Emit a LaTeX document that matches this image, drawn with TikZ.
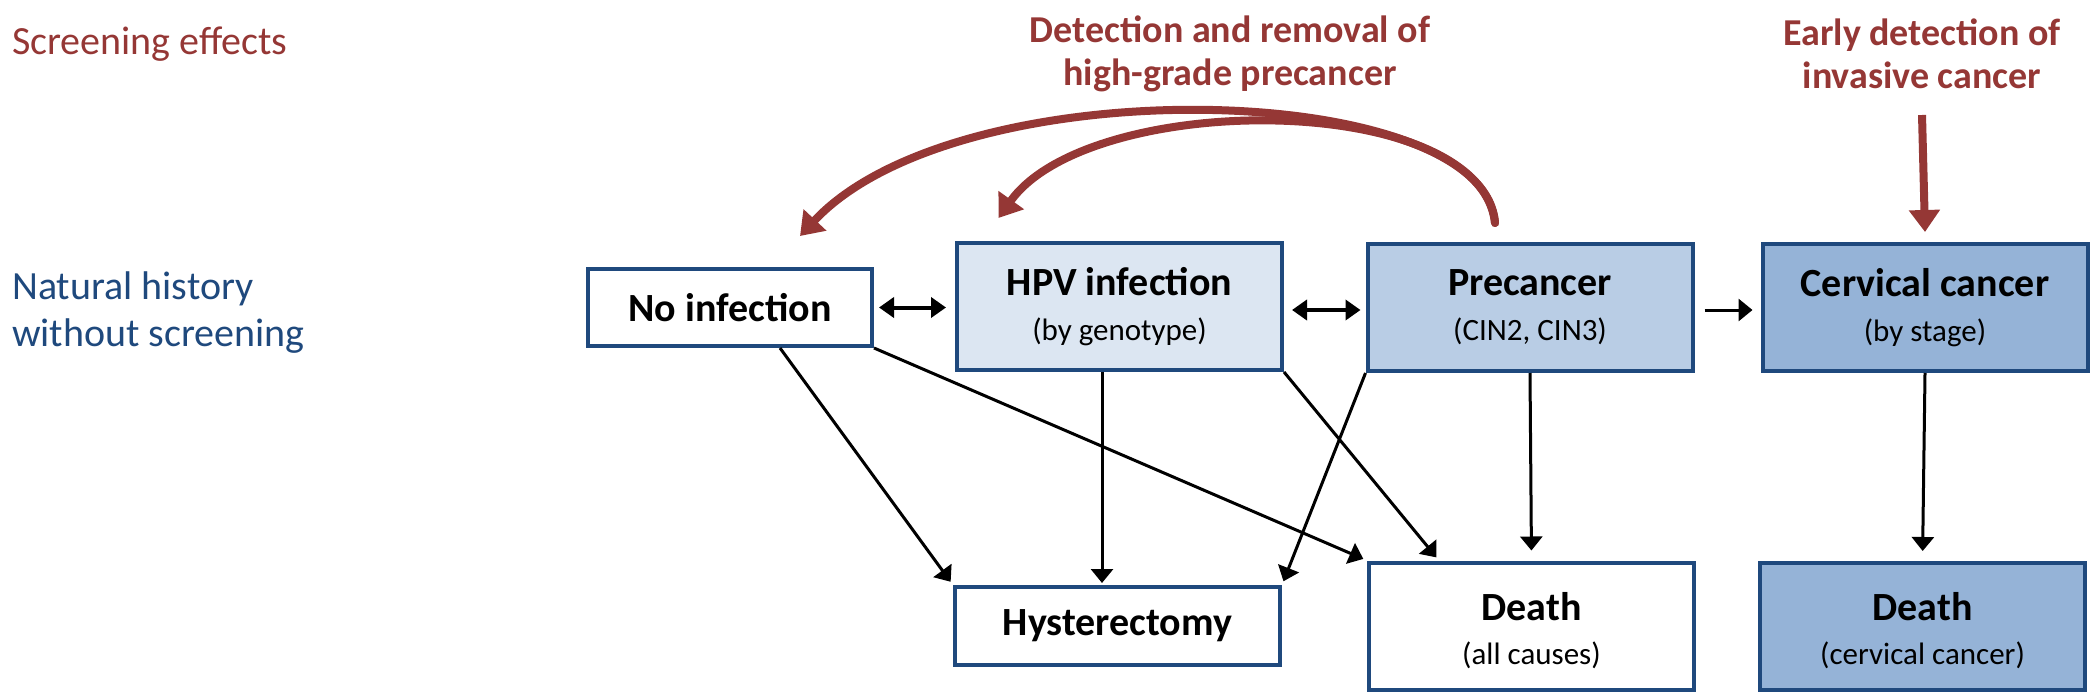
\documentclass[tikz,border=0pt]{standalone}
\usepackage{fontspec}
\setmainfont{Carlito}
\usetikzlibrary{arrows.meta,calc}
\definecolor{scred}{HTML}{953735}
\definecolor{nhblue}{HTML}{1F497D}
\definecolor{bordblue}{HTML}{1F497D}
\definecolor{fillA}{HTML}{DCE6F2}
\definecolor{fillB}{HTML}{B9CDE5}
\definecolor{fillC}{HTML}{95B3D7}
\newcommand{\boxttl}{\fontsize{40}{44}\selectfont\bfseries}
\newcommand{\boxsub}{\fontsize{31}{36}\selectfont}
\newcommand{\lblfont}{\fontsize{40}{47}\selectfont}
\newcommand{\redfont}{\fontsize{38}{43}\selectfont\bfseries}
\begin{document}
\begin{tikzpicture}[x=1pt,y=-1pt,
  box/.style={draw=bordblue, line width=4pt, fill=white, minimum width=325pt,
    minimum height=127pt, inner sep=0pt, align=center, font=\boxsub},
  conn/.style={line width=3pt, -{Triangle[length=14pt,width=22pt]}},
  dbl/.style={line width=4pt, {Triangle[length=15pt,width=20pt]}-{Triangle[length=15pt,width=20pt]}},
  redarr/.style={draw=scred, line width=8pt, line cap=round, -{Triangle[length=22pt,width=30pt]}},
  redlbl/.style={text=scred, font=\redfont, align=center, inner sep=0pt},
  sidelbl/.style={font=\lblfont, align=left, inner sep=0pt, anchor=west}]
\useasboundingbox (0,0) rectangle (2100,696);

% side labels
\node[sidelbl, text=scred] (scr) at (12,44) {Screening effects};
\node[sidelbl, text=nhblue] (nh) at (12,313) {Natural history\\without screening};

% top labels
\node[redlbl] (det) at (1230,54) {Detection and removal of\\high-grade precancer};
\node[redlbl] (early) at (1922,54) {Early detection of\\invasive cancer};

% boxes
\node[box, minimum width=284pt, minimum height=77pt, font=\boxttl] (noinf) at (730,307.5) {No infection};
\node[box, fill=fillA] (hpv) at (1119.5,306.5) {{\boxttl HPV infection}\\[9pt](by genotype)};
\node[box, fill=fillB] (pre) at (1530,307.5) {{\boxttl Precancer}\\[9pt](CIN2, CIN3)};
\node[box, fill=fillC] (cc) at (1925,307.5) {{\boxttl Cervical cancer}\\[9pt](by stage)};
\node[box, minimum height=78pt, font=\boxttl] (hyst) at (1117.5,626) {Hysterectomy};
\node[box] (dall) at (1531.5,626) {{\boxttl\rule{0pt}{37pt}Death}\\[8pt](all causes)};
\node[box, fill=fillC] (dcc) at (1922.5,626.5) {{\boxttl\rule{0pt}{37pt}Death}\\[8pt](cervical cancer)};

% horizontal transitions
\draw[dbl, shorten <=5pt, shorten >=9pt] (noinf) -- (hpv.west |- noinf);
\draw[dbl, shorten <=8pt, shorten >=5pt] (hpv.east |- 0,310) -- (pre.west |- 0,310);
\draw[conn, shorten <=10pt, shorten >=8pt] (pre.east |- 0,310) -- (cc.west |- 0,310);

% downward transitions
\draw[conn, shorten >=10pt] (cc.south) -- (dcc.north);
\draw[conn, shorten >=10pt] (pre.south) -- (dall.north);
\draw[conn, shorten >=2pt] (hpv.south -| 1102,0) -- (hyst.north -| 1102,0);
\draw[conn, shorten >=4pt] ($(noinf.south)+(50,0)$) -- (hyst.north west);
\draw[conn, shorten >=4pt] (noinf.south east) -- (dall.north west);
\draw[conn, shorten >=4pt] (hpv.south east) -- ($(dall.north west)+(72,0)$);
\draw[conn, shorten >=4pt] (pre.south west) -- (hyst.north east);

% screening effects
\coordinate (rstart) at ($(pre.north)+(-35,-19)$);
\coordinate (tipA) at ($(noinf.north)+(70,-31)$);
\coordinate (tipB) at ($(hpv.north)+(-121,-23)$);
\draw[redarr] (rstart) .. controls (1485,80) and (960,65) .. (tipA);
\draw[redarr] (rstart) .. controls (1480,90) and (1090,90) .. (tipB);
\draw[redarr, line cap=butt] (early.south |- 0,115) -- (cc.north |- 0,232);
\end{tikzpicture}
\end{document}
